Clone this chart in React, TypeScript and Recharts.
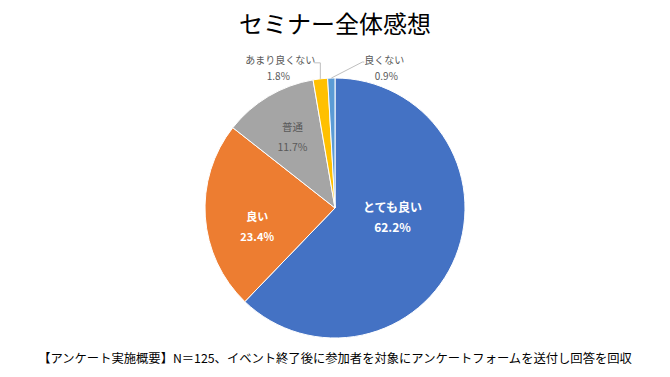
import { PieChart, Pie, Cell } from "recharts";

const categories = ["とても良い", "良い", "普通", "あまり良くない", "良くない"];
const shares = [62.2, 23.4, 11.7, 1.8, 0.9];
const colors = ["#4472C4", "#ED7D31", "#A5A5A5", "#FFC000", "#5B9BD5"];

const TITLE = "セミナー全体感想";
const NOTE = "【アンケート実施概要】N＝125、イベント終了後に参加者を対象にアンケートフォームを送付し回答を回収";

const data = categories.map((name, i) => ({ name, value: shares[i] }));

const FONT = '"Noto Sans CJK JP", "Noto Sans", sans-serif';
const RAD = Math.PI / 180;

// inside labels: radius fraction + vertical nudge (Excel centers the text box)
const inside = [
  { f: 0.477, dy: -15, fill: "#ffffff", size: 12, weight: 700 },
  { f: 0.6, dy: 13, fill: "#ffffff", size: 11, weight: 700 },
  { f: 0.64, dy: 0, fill: "#595959", size: 10.5, weight: 400 },
];

const renderLabel = (props: any) => {
  const { cx, cy, midAngle, outerRadius, index, name, value } = props;
  const cos = Math.cos(-midAngle * RAD);
  const sin = Math.sin(-midAngle * RAD);
  const pct = `${Number(value).toFixed(1)}%`;

  if (index < 3) {
    const s = inside[index];
    const x = cx + outerRadius * s.f * cos;
    const y = cy + outerRadius * s.f * sin + s.dy;
    return (
      <g>
        <text x={x} y={y - 10} fill={s.fill} fontSize={s.size} fontWeight={s.weight} fontFamily={FONT} textAnchor="middle" dominantBaseline="central">
          {name}
        </text>
        <text x={x} y={y + 10} fill={s.fill} fontSize={s.size} fontWeight={s.weight} fontFamily={FONT} textAnchor="middle" dominantBaseline="central">
          {pct}
        </text>
      </g>
    );
  }

  const ox = cx + outerRadius * cos;
  const oy = cy + outerRadius * sin;
  const left = index === 3;
  const ex = left ? ox : ox + 31;
  const ey = oy - 16;
  const tx = left ? ox - 40 : ox + 53;
  return (
    <g>
      <polyline
        points={`${ox},${oy} ${ex},${ey} ${left ? ex - 6 : ex + 2},${ey}`}
        fill="none"
        stroke="#bfbfbf"
        strokeWidth={1}
      />
      <text x={tx} y={oy - 19} fill="#595959" fontSize={10} fontFamily={FONT} textAnchor="middle" dominantBaseline="central">
        {name}
      </text>
      <text x={tx + (left ? -2 : 2)} y={oy - 3} fill="#595959" fontSize={10} fontFamily={FONT} textAnchor="middle" dominantBaseline="central">
        {pct}
      </text>
    </g>
  );
};

export default function App() {
  return (
    <div style={{ position: "absolute", left: 0, top: 0, width: 670, height: 377, background: "#fff", fontFamily: FONT }}>
      <div style={{ position: "absolute", left: 0, top: 11, width: 670, height: 24, lineHeight: "24px", fontSize: 24, textAlign: "center", color: "#000" }}>
        {TITLE}
      </div>
      <PieChart
        width={670}
        height={377}
        margin={{ top: 0, right: 0, bottom: 0, left: 0 }}
        style={{ position: "absolute", left: 0, top: 0 }}
      >
        <Pie
          data={data}
          dataKey="value"
          nameKey="name"
          cx={335}
          cy={208}
          outerRadius={130}
          startAngle={90}
          endAngle={-270}
          stroke="#ffffff"
          strokeWidth={1}
          label={renderLabel}
          labelLine={false}
          isAnimationActive={false}
        >
          {data.map((d, i) => (
            <Cell key={d.name} fill={colors[i]} />
          ))}
        </Pie>
      </PieChart>
      <div style={{ position: "absolute", left: 0, top: 350, width: 670, height: 16, lineHeight: "16px", fontSize: 12.3, textAlign: "center", color: "#000" }}>
        {NOTE}
      </div>
    </div>
  );
}
